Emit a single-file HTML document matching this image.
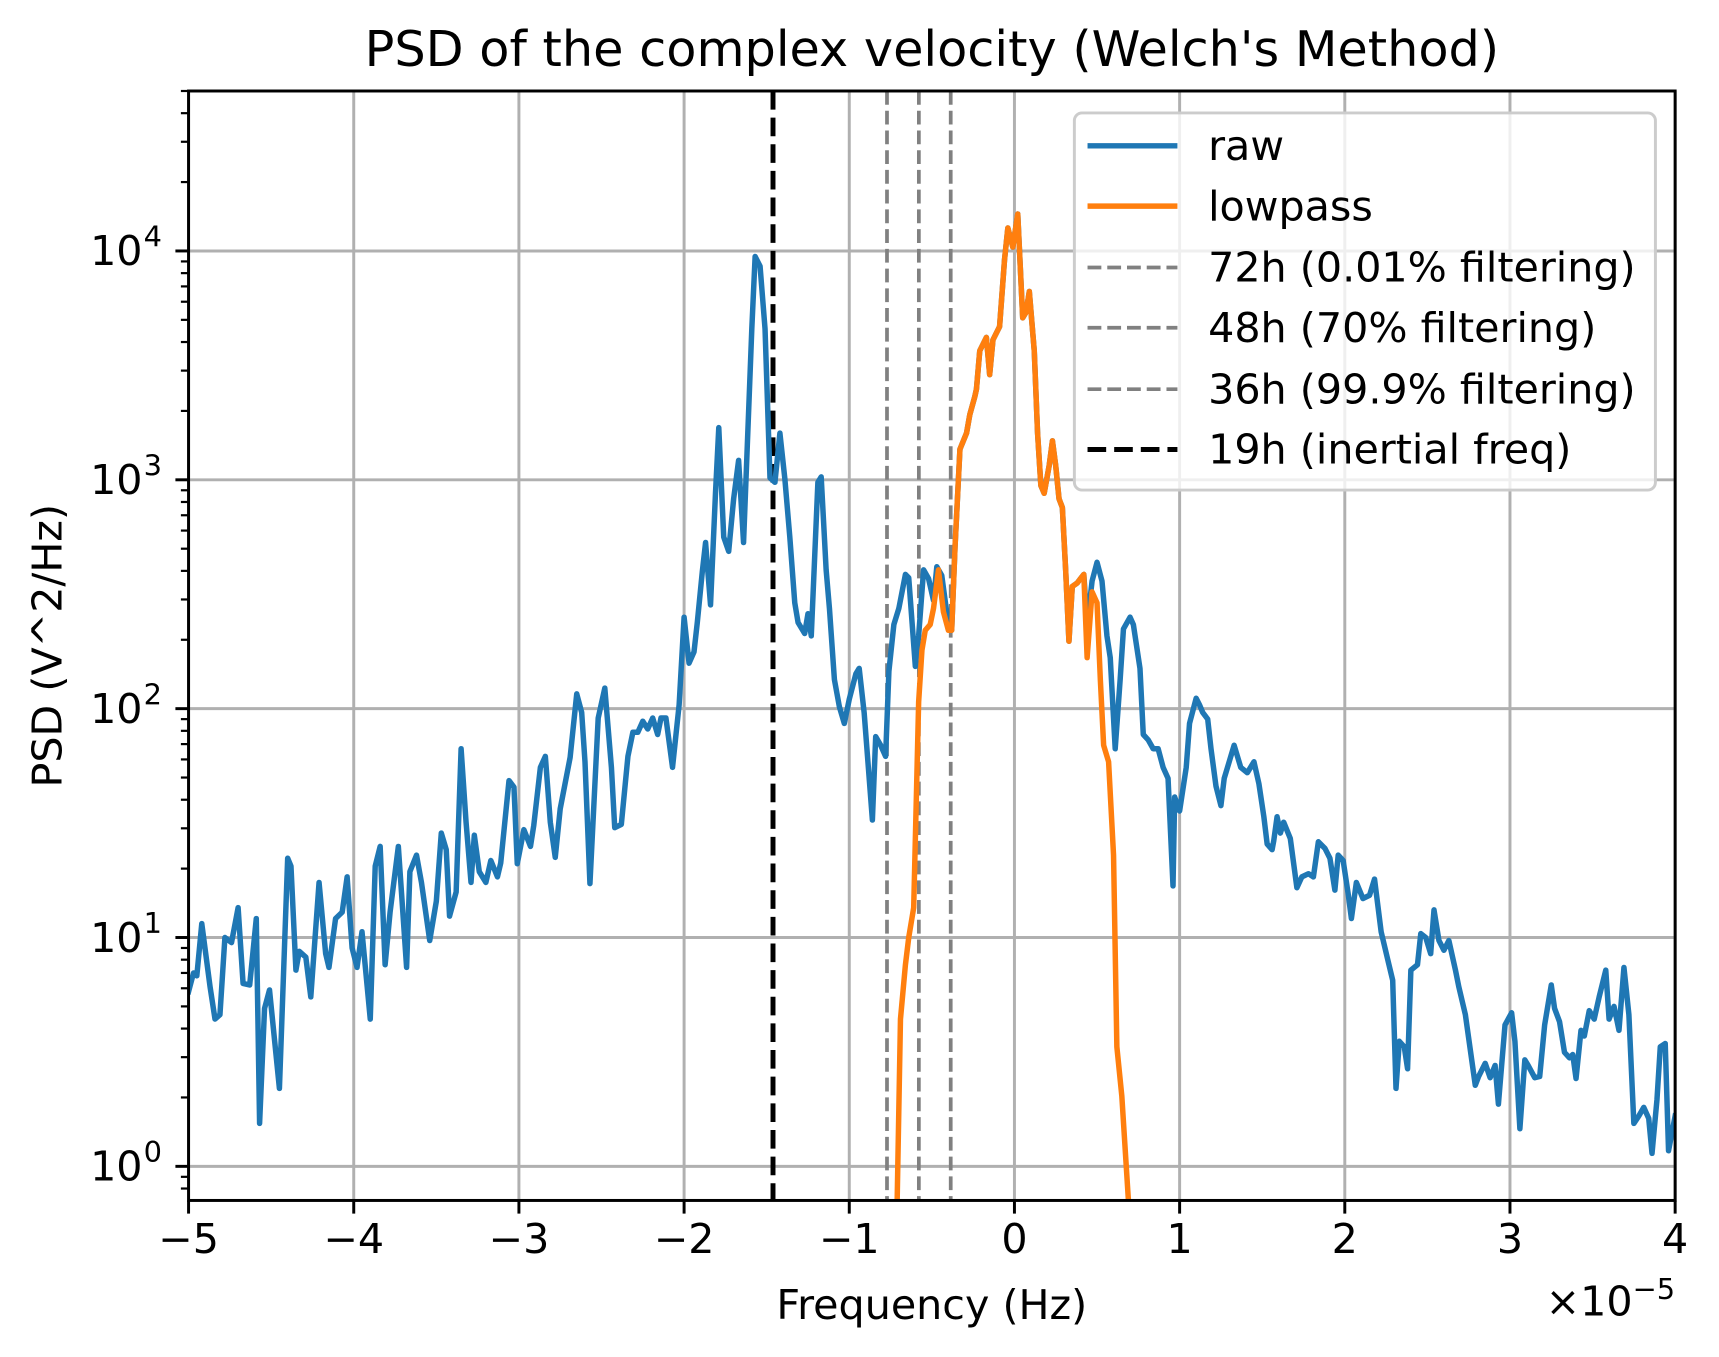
<!DOCTYPE html>
<html><head><meta charset="utf-8"><style>
html,body{margin:0;padding:0;background:#fff;}
svg{display:block;font-family:"DejaVu Sans","Liberation Sans",sans-serif;}
</style></head><body>
<svg id="chart" width="1719" height="1357" viewBox="0 0 1568 1237.8" xmlns="http://www.w3.org/2000/svg">
<defs><clipPath id="plotclip"><rect x="172" y="83" width="1356" height="1012"/></clipPath></defs>
<rect width="1568" height="1237.8" fill="#fff"/>
<g id="grid"></g>
<g id="vlines" clip-path="url(#plotclip)"></g>
<g id="series" clip-path="url(#plotclip)"></g>
<g id="axes"></g>
<text x="850" y="60" font-size="45" text-anchor="middle">PSD of the complex velocity (Welch's Method)</text>
<text x="850" y="1203" font-size="37.6" text-anchor="middle">Frequency (Hz)</text>
<text x="1528" y="1200" font-size="37.6" text-anchor="end">×10<tspan font-size="26.3" dy="-15">−5</tspan></text>
<text transform="translate(56,589) rotate(-90)" font-size="37.6" text-anchor="middle">PSD (V^2/Hz)</text>
<g id="legend"></g>
</svg>
<script>
const rawFreq=[-5.00,-4.97,-4.95,-4.92,-4.87,-4.84,-4.81,-4.78,-4.74,-4.70,-4.67,-4.63,-4.59,-4.57,-4.54,-4.51,-4.45,-4.40,-4.38,-4.35,-4.33,-4.29,-4.26,-4.21,-4.17,-4.15,-4.11,-4.07,-4.04,-4.01,-3.98,-3.95,-3.90,-3.87,-3.84,-3.81,-3.78,-3.73,-3.68,-3.66,-3.62,-3.59,-3.54,-3.50,-3.47,-3.44,-3.42,-3.38,-3.35,-3.32,-3.29,-3.27,-3.24,-3.20,-3.17,-3.13,-3.11,-3.06,-3.03,-3.01,-2.97,-2.93,-2.91,-2.87,-2.84,-2.81,-2.78,-2.75,-2.69,-2.65,-2.62,-2.60,-2.57,-2.52,-2.48,-2.44,-2.42,-2.38,-2.34,-2.31,-2.28,-2.25,-2.22,-2.19,-2.16,-2.14,-2.11,-2.07,-2.03,-2.00,-1.97,-1.94,-1.92,-1.89,-1.87,-1.84,-1.81,-1.79,-1.76,-1.73,-1.70,-1.67,-1.64,-1.59,-1.57,-1.54,-1.51,-1.48,-1.45,-1.42,-1.39,-1.36,-1.33,-1.31,-1.27,-1.25,-1.23,-1.19,-1.17,-1.14,-1.12,-1.09,-1.06,-1.03,-1.00,-0.96,-0.94,-0.91,-0.86,-0.84,-0.81,-0.78,-0.76,-0.73,-0.70,-0.66,-0.64,-0.60,-0.58,-0.55,-0.52,-0.49,-0.47,-0.44,-0.40,
-0.38,-0.36,-0.33,-0.29,-0.27,-0.24,-0.23,-0.21,-0.17,-0.15,-0.13,-0.09,-0.06,-0.04,-0.01,0.02,0.05,0.07,0.09,0.12,0.14,0.16,0.18,0.21,0.23,0.25,0.27,0.29,0.31,0.33,0.35,0.38,0.40,0.42,
0.44,0.47,0.50,0.53,0.56,0.58,0.61,0.64,0.66,0.70,0.72,0.76,0.78,0.81,0.84,0.87,0.90,0.93,0.96,0.97,1.00,1.04,1.06,1.10,1.12,1.14,1.17,1.19,1.22,1.25,1.27,1.31,1.33,1.37,1.41,1.45,1.48,1.51,1.53,1.56,1.57,1.59,1.61,1.63,1.67,1.71,1.74,1.78,1.81,1.84,1.88,1.91,1.94,1.96,1.99,2.02,2.04,2.07,2.11,2.15,2.18,2.22,2.26,2.29,2.31,2.33,2.36,2.38,2.40,2.44,2.46,2.49,2.52,2.54,2.57,2.60,2.63,2.67,2.69,2.73,2.79,2.81,2.85,2.88,2.91,2.93,2.97,3.01,3.03,3.06,3.09,3.11,3.15,3.18,3.21,3.25,3.27,3.30,3.33,3.36,3.38,3.40,3.43,3.45,3.48,3.51,3.54,3.58,3.60,3.63,3.66,3.69,3.72,3.75,3.78,3.81,3.84,3.86,3.89,3.91,3.94,3.96,4.00];
const rawPsd=[5.8,7.0,6.8,11.5,6.1,4.4,4.6,10.0,9.5,13.5,6.3,6.2,12.1,1.54,4.9,5.9,2.19,22.2,20.5,7.2,8.7,8.2,5.5,17.4,8.5,7.4,12.1,12.9,18.4,9.0,7.4,10.6,4.4,20.5,25.0,7.6,12.9,25.0,7.4,19.4,22.9,17.4,9.7,14.4,28.6,24.2,12.4,15.8,66.8,31.9,17.4,28.0,19.4,17.4,21.7,18.4,21.2,48.5,45.4,21.0,29.6,25.0,30.9,55.4,61.9,31.9,22.4,36.5,61.2,116,96.2,58.6,17.2,91.0,123,55.4,30.2,31.2,61.9,78.9,78.9,88.1,81.5,91.0,77.1,91.0,91.0,55.4,104,251,158,177,238,395,532,284,873,1690,562,487,826,1216,532,4570,9460,8570,4570,1020,975,1600,1010,562,290,238,213,260,208,975,1030,404,274,134,102,86.2,110,142,150,96.2,32.6,75.5,69.2,61.9,146,233,274,386,373,153,208,404,370,297,417,382,233,
220,504,1360,1600,1930,2310,2490,3660,4190,2880,4090,4670,9160,12600,10400,14500,5100,5390,6650,3660,1600,944,873,1150,1480,1150,826,757,404,197,342,354,370,386,
233,361,436,361,208,167,66.8,134,223,251,233,150,77.1,73.0,66.8,66.8,55.4,49.6,16.8,41.1,35.7,55.4,86.2,111,104,96.2,90.0,66.8,45.9,37.7,49.6,61.9,69.2,55.4,52.5,58.6,47.0,33.7,25.6,24.2,26.5,33.7,28.6,31.9,27.1,16.5,18.4,19.0,18.4,26.2,24.5,22.2,16.1,22.9,21.7,15.6,12.1,17.4,14.8,15.3,18.0,10.6,8.0,6.5,2.19,3.52,3.33,2.67,7.2,7.6,10.4,10.0,8.5,13.2,9.7,8.8,9.7,7.2,6.1,4.6,2.26,2.47,2.82,2.44,2.76,1.87,4.15,4.69,3.52,1.46,2.92,2.76,2.44,2.47,4.15,6.2,4.9,4.29,3.15,2.98,3.08,2.42,3.93,3.71,4.79,4.4,5.5,7.2,4.4,5.0,3.93,7.4,4.6,1.54,1.66,1.81,1.62,1.14,1.96,3.33,3.44,1.17,1.66];
const lowFreq=[-0.72,-0.71,-0.69,-0.66,-0.64,-0.61,-0.58,-0.56,-0.54,-0.51,-0.49,-0.46,-0.43,-0.40,
-0.38,-0.36,-0.33,-0.29,-0.27,-0.24,-0.23,-0.21,-0.17,-0.15,-0.13,-0.09,-0.06,-0.04,-0.01,0.02,0.05,0.07,0.09,0.12,0.14,0.16,0.18,0.21,0.23,0.25,0.27,0.29,0.31,0.33,0.35,0.38,0.40,0.42,
0.44,0.47,0.50,0.52,0.54,0.57,0.60,0.62,0.65,0.69,0.72];
const lowPsd=[0.39,0.71,4.4,7.6,10.0,13.5,107,180,220,233,274,404,265,220,
220,504,1360,1600,1930,2310,2490,3660,4190,2880,4090,4670,9160,12600,10400,14500,5100,5390,6650,3660,1600,944,873,1150,1480,1150,826,757,404,197,342,354,370,386,
167,324,290,134,69.2,58.6,22.9,3.33,2.03,0.71,0.39];
const cutoffFreqs=[-0.3858,-0.5787,-0.7716];
const inertialFreq=-1.4617;
const xTicks=[-5,-4,-3,-2,-1,0,1,2,3,4];
const xTickLabels=["−5","−4","−3","−2","−1","0","1","2","3","4"];
const legendLabels=["raw","lowpass","72h (0.01% filtering)","48h (70% filtering)","36h (99.9% filtering)","19h (inertial freq)"];

const L=172,R=1528,T=83,B=1095;
const xMin=-5,xMax=4,yMinLog=-0.149,yMaxLog=4.699;
const NS="http://www.w3.org/2000/svg";
const FS=37.6,FSS=26.3;
function xs(v){return L+(v-xMin)/(xMax-xMin)*(R-L);}
function ys(v){return B-(Math.log10(v)-yMinLog)/(yMaxLog-yMinLog)*(B-T);}
function mk(tag,attrs,parent){const e=document.createElementNS(NS,tag);for(const k in attrs)e.setAttribute(k,attrs[k]);parent.appendChild(e);return e;}
const grid=document.getElementById('grid'),axes=document.getElementById('axes'),series=document.getElementById('series'),vl=document.getElementById('vlines'),leg=document.getElementById('legend');

xTicks.forEach((t,i)=>{
  const x=xs(t);
  const g=mk('line',{x1:x,x2:x,y1:T,y2:B,stroke:'#b0b0b0','stroke-width':2.7},grid);
  
  
  const tk=mk('line',{x1:x,x2:x,y1:B,y2:B+12,stroke:'#000','stroke-width':2.7},axes);
  
  
  const lb=mk('text',{x:x,y:B+48,'font-size':FS,'text-anchor':'middle'},axes);
  lb.textContent=xTickLabels[i];
  
  
});
for(let d=-1;d<=4;d++){
  for(let m=1;m<10;m++){
    const v=m*Math.pow(10,d);const y=ys(v);
    if(y<T-0.5||y>B+0.5)continue;
    if(m===1){
      const g=mk('line',{x1:L,x2:R,y1:y,y2:y,stroke:'#b0b0b0','stroke-width':2.7},grid);
      
      
      const tk=mk('line',{x1:L-12,x2:L,y1:y,y2:y,stroke:'#000','stroke-width':2.7},axes);
      
      
      const lb=mk('text',{x:L-42,y:y+13,'font-size':FS,'text-anchor':'end'},axes);
      lb.textContent='10';
      
      
      const sp=mk('text',{x:L-41,y:y-4,'font-size':FSS,'text-anchor':'start'},axes);
      sp.textContent=String(d);
      
      
    }else{
      const tk=mk('line',{x1:L-7,x2:L,y1:y,y2:y,stroke:'#000','stroke-width':2},axes);
      
      
    }
  }
}
const frame=mk('rect',{x:L,y:T,width:R-L,height:B-T,fill:'none',stroke:'#000','stroke-width':2.7},axes);



function path(fr,ps){return fr.map((f,i)=>(i?'L':'M')+xs(f).toFixed(2)+','+ys(ps[i]).toFixed(2)).join('');}
const raw=mk('path',{d:path(rawFreq,rawPsd),fill:'none',stroke:'#1f77b4','stroke-width':5,'stroke-linejoin':'round','stroke-linecap':'square'},series);


const low=mk('path',{d:path(lowFreq,lowPsd),fill:'none',stroke:'#ff7f0e','stroke-width':5,'stroke-linejoin':'round','stroke-linecap':'square'},series);



cutoffFreqs.forEach(f=>{
  const l=mk('line',{x1:xs(f),x2:xs(f),y1:T,y2:B,stroke:'#808080','stroke-width':3.4,'stroke-dasharray':'12.6 5.4'},vl);
  
  
});
const il=mk('line',{x1:xs(inertialFreq),x2:xs(inertialFreq),y1:T,y2:B,stroke:'#000','stroke-width':4.5,'stroke-dasharray':'17 7.3'},vl);



const box=mk('rect',{x:980,y:103,width:530,height:344,rx:7,fill:'#fff','fill-opacity':0.8,stroke:'#cccccc','stroke-width':2.7},leg);


const styles=[{c:'#1f77b4',w:5,d:''},{c:'#ff7f0e',w:5,d:''},{c:'#808080',w:3.4,d:'12.6 5.4'},{c:'#808080',w:3.4,d:'12.6 5.4'},{c:'#808080',w:3.4,d:'12.6 5.4'},{c:'#000',w:4.5,d:'17 7.3'}];
const rowsY=[133,188,244,299,355,410];
legendLabels.forEach((t,i)=>{
  const y=rowsY[i];
  const a={x1:992,x2:1074,y1:y,y2:y,stroke:styles[i].c,'stroke-width':styles[i].w};
  if(styles[i].d)a['stroke-dasharray']=styles[i].d;
  const ln=mk('line',a,leg);
  
  
  const tx=mk('text',{x:1102,y:y+13,'font-size':FS},leg);
  tx.textContent=t;
  
  
});
</script>
</body></html>
